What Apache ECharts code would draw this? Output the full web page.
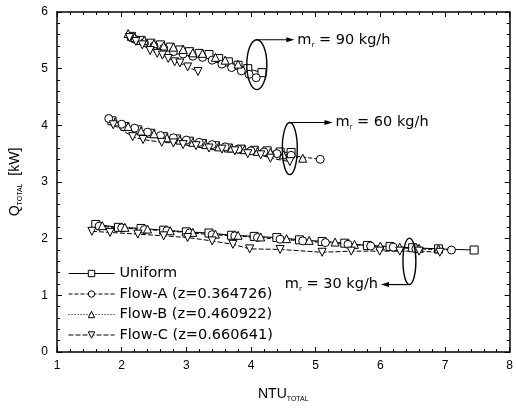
<!DOCTYPE html>
<html>
<head>
<meta charset="utf-8">
<script src="https://cdn.jsdelivr.net/npm/echarts@6/dist/echarts.min.js"></script>
<style>
  html, body { margin: 0; padding: 0; background: #fff; }
  #chart { width: 516px; height: 408px; }
</style>
</head>
<body>
<div id="chart"></div>
<script>
// 数据: [NTU_total, Q_total(kW)], 每种流型按 90 / 60 / 30 kg/h 三组
var uniform90 = [[2.15,5.57],[2.3,5.5],[2.45,5.45],[2.6,5.42],[2.75,5.38],[2.9,5.33],[3.05,5.3],[3.2,5.27],[3.35,5.25],[3.5,5.18],[3.65,5.12],[3.8,5.06],[3.95,5.0],[4.17,4.93]]
var flowA90 = [[2.2,5.52],[2.35,5.46],[2.5,5.4],[2.65,5.36],[2.8,5.3],[2.95,5.26],[3.1,5.22],[3.25,5.2],[3.4,5.15],[3.55,5.08],[3.7,5.02],[3.85,4.96],[3.97,4.9],[4.08,4.84]]
var flowB90 = [[2.1,5.62],[2.2,5.55],[2.35,5.5],[2.5,5.44],[2.65,5.4],[2.8,5.38],[2.95,5.34],[3.1,5.28],[3.25,5.27],[3.45,5.2],[3.6,5.15],[3.8,5.08]]
var flowC90 = [[2.12,5.55],[2.22,5.48],[2.32,5.42],[2.44,5.32],[2.55,5.27],[2.63,5.24],[2.72,5.18],[2.82,5.12],[2.9,5.1],[3.02,5.03],[3.18,4.95]]

var uniform60 = [[1.85,4.08],[2.05,3.98],[2.25,3.92],[2.45,3.86],[2.65,3.8],[2.85,3.76],[3.05,3.72],[3.25,3.68],[3.45,3.64],[3.65,3.6],[3.85,3.58],[4.05,3.56],[4.25,3.55],[4.45,3.53],[4.62,3.52]]
var flowA60 = [[1.8,4.12],[2.0,4.02],[2.2,3.95],[2.4,3.88],[2.6,3.82],[2.8,3.78],[3.0,3.74],[3.2,3.7],[3.4,3.66],[3.6,3.62],[3.8,3.58],[4.0,3.55],[4.2,3.53],[4.4,3.5],[4.62,3.47],[5.07,3.4]]
var flowB60 = [[1.9,4.06],[2.1,3.98],[2.3,3.9],[2.5,3.85],[2.7,3.78],[2.9,3.74],[3.1,3.7],[3.3,3.66],[3.5,3.62],[3.7,3.6],[3.9,3.57],[4.1,3.54],[4.3,3.52],[4.5,3.48],[4.8,3.42]]
var flowC60 = [[1.87,4.01],[2.17,3.8],[2.33,3.75],[2.62,3.7],[2.8,3.69],[2.95,3.66],[3.15,3.64],[3.35,3.6],[3.55,3.58],[3.75,3.55],[3.95,3.5],[4.15,3.48],[4.3,3.42],[4.6,3.36]]

var uniform30 = [[1.6,2.25],[1.95,2.2],[2.3,2.18],[2.65,2.15],[3.0,2.12],[3.35,2.1],[3.7,2.06],[4.05,2.04],[4.4,2.02],[4.75,1.98],[5.1,1.95],[5.45,1.92],[5.8,1.88],[6.15,1.86],[6.5,1.84],[6.9,1.82],[7.45,1.8]]
var flowA30 = [[1.65,2.22],[2.0,2.19],[2.35,2.16],[2.7,2.14],[3.05,2.1],[3.4,2.07],[3.75,2.05],[4.1,2.02],[4.45,1.99],[4.8,1.96],[5.15,1.93],[5.5,1.9],[5.85,1.87],[6.2,1.85],[6.55,1.82],[7.1,1.8]]
var flowB30 = [[1.7,2.23],[2.05,2.2],[2.4,2.17],[2.75,2.14],[3.1,2.11],[3.45,2.08],[3.8,2.06],[4.15,2.03],[4.55,2.0],[4.9,1.97],[5.3,1.94],[5.6,1.9],[6.0,1.87],[6.3,1.85],[6.6,1.83],[6.9,1.82]]
var flowC30 = [[1.54,2.13],[1.82,2.11],[2.25,2.08],[2.65,2.05],[3.02,2.02],[3.4,1.96],[3.72,1.9],[3.98,1.82],[4.45,1.81],[5.1,1.76],[5.55,1.78],[5.99,1.78],[6.3,1.78],[6.6,1.78],[6.92,1.76]]

var seriesNames = ['Uniform', 'Flow-A (z=0.364726)', 'Flow-B (z=0.460922)', 'Flow-C (z=0.660641)']
var xTicks = [1, 2, 3, 4, 5, 6, 7, 8]
var yTicks = [0, 1, 2, 3, 4, 5, 6]

// 标注: 椭圆 + 箭头 + 文字
var notes = [
  { cx: 4.09, cy: 5.07, rx: 0.155, ry: 0.44, top: true, tip: 4.67, label: ' = 90 kg/h' },
  { cx: 4.60, cy: 3.59, rx: 0.116, ry: 0.46, top: true, tip: 5.26, label: ' = 60 kg/h' },
  { cx: 6.45, cy: 1.60, rx: 0.10, ry: 0.41, top: false, tip: 6.01, label: ' = 30 kg/h' }
]

var font = 'Liberation Sans, Arial, sans-serif'
var wideFont = 'DejaVu Sans, sans-serif'

var styles = [
  { symbol: 'rect', rotate: 0, type: 'solid' },
  { symbol: 'circle', rotate: 0, type: [4, 2] },
  { symbol: 'triangle', rotate: 0, type: [1, 2] },
  { symbol: 'triangle', rotate: 180, type: [5, 2] }
]
var groups = [
  [uniform90, uniform60, uniform30],
  [flowA90, flowA60, flowA30],
  [flowB90, flowB60, flowB30],
  [flowC90, flowC60, flowC30]
]

var series = []
groups.forEach(function (g, i) {
  g.forEach(function (d) {
    series.push({
      name: seriesNames[i],
      type: 'line',
      data: d,
      symbol: styles[i].symbol,
      symbolRotate: styles[i].rotate,
      symbolSize: 8,
      showAllSymbol: true,
      animation: false,
      lineStyle: { color: '#000', width: 1, type: styles[i].type },
      itemStyle: { color: '#fff', borderColor: '#000', borderWidth: 1 }
    })
  })
})

series.push({
  type: 'custom',
  silent: true,
  animation: false,
  z: 10,
  data: notes.map(function (n) { return [n.cx, n.cy] }),
  renderItem: function (params, api) {
    var n = notes[params.dataIndex]
    var c = api.coord([n.cx, n.cy])
    var s = api.size([n.rx, n.ry])
    var ye = n.top ? c[1] - s[1] : c[1] + s[1]
    var tip = api.coord([n.tip, n.cy])[0]
    var dir = tip > c[0] ? 1 : -1
    return {
      type: 'group',
      children: [
        { type: 'ellipse', shape: { cx: c[0], cy: c[1], rx: s[0], ry: s[1] }, style: { fill: null, stroke: '#000', lineWidth: 1.4 } },
        { type: 'line', shape: { x1: c[0], y1: ye, x2: tip - dir * 5, y2: ye }, style: { stroke: '#000', lineWidth: 1.2 } },
        { type: 'polygon', shape: { points: [[tip, ye], [tip - dir * 8, ye - 2.5], [tip - dir * 8, ye + 2.5]] }, style: { fill: '#000' } },
        {
          type: 'text',
          x: tip + dir * 3,
          y: ye,
          style: {
            text: '{m|m}{s|r}{m|' + n.label + '}',
            align: dir > 0 ? 'left' : 'right',
            verticalAlign: 'middle',
            fill: '#000',
            rich: {
              m: { fontSize: 14.5, fontFamily: wideFont, fill: '#000', lineHeight: 17 },
              s: { fontSize: 7, fontFamily: wideFont, fill: '#000', verticalAlign: 'bottom', lineHeight: 17 }
            }
          }
        }
      ]
    }
  }
})

function frameAxis(pos, ticks, extra) {
  var ax = {
    type: 'value',
    position: pos,
    min: ticks[0],
    max: ticks[ticks.length - 1],
    interval: 1,
    axisLine: { show: true, onZero: false, lineStyle: { color: '#000', width: 1.5 } },
    axisTick: { inside: true, length: 5, lineStyle: { color: '#000' } },
    minorTick: { show: true, splitNumber: 5, length: 3, lineStyle: { color: '#000' } },
    splitLine: { show: false },
    axisLabel: { show: false }
  }
  return Object.assign(ax, extra || {})
}

var subRich = {
  a: { fontSize: 14, fontFamily: font, color: '#000', lineHeight: 18 },
  b: { fontSize: 7, fontFamily: font, color: '#000', verticalAlign: 'bottom', lineHeight: 18 }
}

var chart = echarts.init(document.getElementById('chart'))
chart.setOption({
  backgroundColor: '#fff',
  animation: false,
  textStyle: { fontFamily: font, color: '#000' },
  grid: { left: 57, right: 5, top: 12, bottom: 55 },
  legend: {
    data: seriesNames,
    orient: 'vertical',
    left: 63,
    top: 261,
    itemWidth: 46,
    itemHeight: 8,
    itemGap: 5.5,
    itemStyle: { color: '#fff', borderColor: '#000', borderWidth: 1 },
    lineStyle: { color: '#000', width: 1 },
    textStyle: { fontSize: 14.5, fontFamily: wideFont, color: '#000' }
  },
  xAxis: [
    frameAxis('bottom', xTicks, {
      name: '{a|NTU}{b|TOTAL}',
      nameLocation: 'middle',
      nameGap: 33,
      nameTextStyle: { rich: subRich },
      axisLabel: { fontSize: 12, color: '#000', margin: 8 }
    }),
    frameAxis('top', xTicks)
  ],
  yAxis: [
    frameAxis('left', yTicks, {
      name: '{a|Q}{b|TOTAL}{a|  [kW]}',
      nameLocation: 'middle',
      nameGap: 33,
      nameRotate: 90,
      nameTextStyle: { rich: subRich },
      axisLabel: { fontSize: 12, color: '#000', margin: 9 }
    }),
    frameAxis('right', yTicks)
  ],
  series: series
})
</script>
</body>
</html>
